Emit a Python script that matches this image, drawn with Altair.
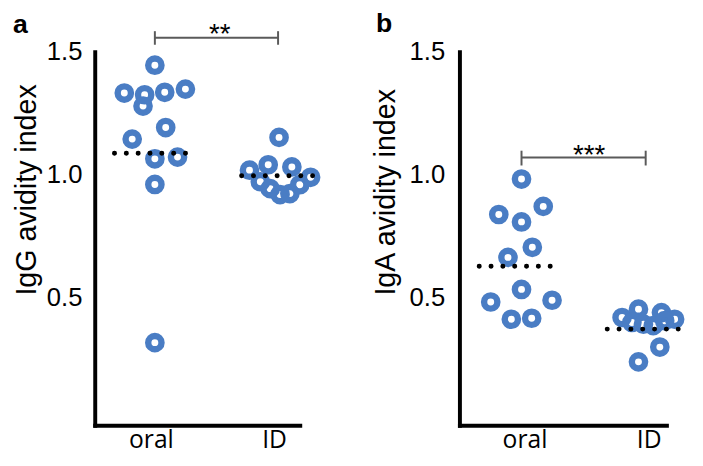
import altair as alt
import pandas as pd

# ---------------- data ----------------
categories = ["oral", "ID"]

# panel a : IgG avidity index
a_oral_values = [1.445, 1.332, 1.325, 1.335, 1.348, 1.279, 1.192, 1.145, 1.065, 1.072, 0.961, 0.319]
a_oral_jitter = [0.000, -0.248, -0.083, 0.080, 0.248, -0.096, 0.088, -0.184, 0.000, 0.184, 0.000, 0.000]
a_id_values = [1.152, 1.041, 1.032, 1.019, 0.990, 0.972, 0.944, 0.920, 0.924, 0.960]
a_id_jitter = [0.008, -0.080, 0.112, -0.232, 0.264, -0.144, -0.064, 0.016, 0.096, 0.176]
a_medians = [1.088, 0.996]
a_median_left = [-0.328, -0.296]
a_median_right = [0.256, 0.280]

# panel b : IgA avidity index
b_oral_values = [0.983, 0.839, 0.872, 0.809, 0.706, 0.665, 0.535, 0.484, 0.491, 0.414, 0.418]
b_oral_jitter = [0.000, -0.183, 0.175, 0.000, 0.087, -0.109, 0.000, -0.248, 0.246, -0.082, 0.082]
b_id_values = [0.421, 0.455, 0.441, 0.414, 0.401, 0.394, 0.388, 0.408, 0.301, 0.241]
b_id_jitter = [-0.190, -0.058, 0.127, 0.233, -0.111, -0.018, 0.061, 0.153, 0.114, -0.058]
b_medians = [0.629, 0.374]
b_median_left = [-0.341, -0.310]
b_median_right = [0.238, 0.286]

# significance annotations
a_sig = {"label": "**", "bar": 1.556, "cap_lo": 1.528, "cap_hi": 1.583, "text_y": 1.536, "text_x": 0.526}
b_sig = {"label": "***", "bar": 1.070, "cap_lo": 1.038, "cap_hi": 1.098, "text_y": 1.046, "text_x": 0.545}

panel_letters = ["a", "b"]
letter_pos = [(-1.092, 1.576), (-1.107, 1.580)]

y_ticks = [0.5, 1.0, 1.5]
titles = ["IgG avidity index", "IgA avidity index"]

BLUE = "#4a7dc4"
GRAY = "#5a5a5a"


def build_panel(oral_v, oral_j, id_v, id_j, meds, mleft, mright, sig, letter, lpos,
                title, xdomain, width, title_x, label_pad, label_off):
    pts = pd.DataFrame({
        "x": [0 + j for j in oral_j] + [1 + j for j in id_j],
        "value": oral_v + id_v,
    })
    med = pd.DataFrame({
        "x": [i + l for i, l in enumerate(mleft)],
        "x2": [i + r for i, r in enumerate(mright)],
        "value": meds,
    })
    br = pd.DataFrame({"x": [0], "x2": [1], "value": [sig["bar"]]})
    caps = pd.DataFrame({"x": [0, 1], "value": [sig["cap_lo"]] * 2, "y2": [sig["cap_hi"]] * 2})
    stars = pd.DataFrame({"x": [sig["text_x"]], "value": [sig["text_y"]], "t": [sig["label"]]})
    let = pd.DataFrame({"x": [lpos[0]], "value": [lpos[1]], "t": [letter]})

    xs = alt.Scale(domain=xdomain, nice=False, zero=False)
    ys = alt.Scale(domain=[-0.016, 1.5], nice=False, zero=False)

    label_expr = "datum.value == 0 ? '%s' : '%s'" % (categories[0], categories[1])
    xaxis = alt.Axis(values=[0, 1], labelExpr=label_expr, ticks=False, tickSize=0, grid=False,
                     title=None, domainColor="black", domainWidth=4, domainCap="square",
                     labelFont="Open Sans", labelFontSize=25, labelColor="black",
                     labelBaseline="alphabetic", labelPadding=23, labelOffset=label_off)
    yaxis = alt.Axis(values=y_ticks, format=".1f", ticks=False, tickSize=0, grid=False,
                     title=title, titleFont="Liberation Sans", titleFontSize=29,
                     titleFontWeight="normal", titleColor="black", titleAngle=270,
                     titleAlign="left", titleBaseline="alphabetic", titleX=title_x, titleY=247,
                     domainColor="black", domainWidth=4, domainCap="square",
                     labelFont="Liberation Sans", labelFontSize=26, labelColor="black",
                     labelPadding=label_pad)

    X = alt.X("x:Q", scale=xs, axis=xaxis)
    Y = alt.Y("value:Q", scale=ys, axis=yaxis)

    points = alt.Chart(pts).mark_point(shape="circle", filled=False, size=182, strokeWidth=6.5,
                                       color=BLUE, opacity=1).encode(x=X, y=Y)
    medians = alt.Chart(med).mark_rule(color="black", strokeWidth=5, strokeCap="round",
                                       strokeDash=[0.1, 11.9]).encode(x=X, x2="x2:Q", y=Y)
    bar = alt.Chart(br).mark_rule(color=GRAY, strokeWidth=2).encode(x=X, x2="x2:Q", y=Y)
    cap = alt.Chart(caps).mark_rule(color=GRAY, strokeWidth=2).encode(x=X, y=Y, y2="y2:Q")
    star = alt.Chart(stars).mark_text(font="Liberation Sans", fontSize=28, color="black",
                                      align="center", baseline="alphabetic").encode(
        x=X, y=Y, text="t:N")
    letter_t = alt.Chart(let).mark_text(font="Liberation Sans", fontSize=27, fontWeight="bold",
                                        color="black", align="center", baseline="alphabetic").encode(
        x=X, y=Y, text="t:N")
    return alt.layer(points, medians, bar, cap, star, letter_t).properties(width=width, height=379)


pa = build_panel(a_oral_values, a_oral_jitter, a_id_values, a_id_jitter, a_medians,
                 a_median_left, a_median_right, a_sig, panel_letters[0], letter_pos[0],
                 titles[0], [-0.488, 1.176], 208, -60, 13, -4)
pb = build_panel(b_oral_values, b_oral_jitter, b_id_values, b_id_jitter, b_medians,
                 b_median_left, b_median_right, b_sig, panel_letters[1], letter_pos[1],
                 titles[1], [-0.5, 1.167], 210, -66, 15, 3)

chart = alt.hconcat(pa, pb, spacing=162, bounds="flush").properties(
    padding={"left": 4, "top": -2, "right": 0, "bottom": 2},
    background="white",
).configure_view(stroke=None)

chart.save("out.html", embed_options={"renderer": "svg", "actions": False})
